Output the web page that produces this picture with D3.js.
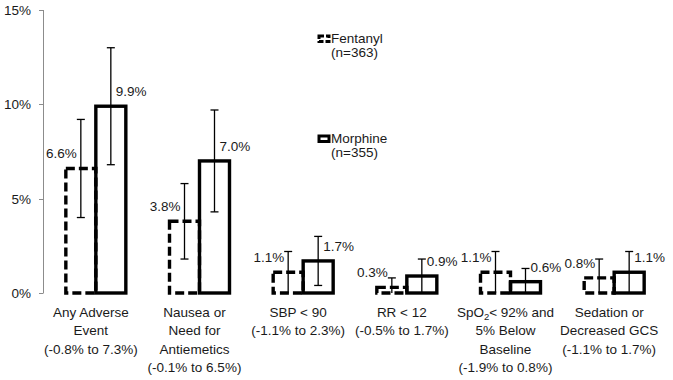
<!DOCTYPE html>
<html>
<head>
<meta charset="utf-8">
<script src="https://cdn.jsdelivr.net/npm/d3@7"></script>
<style>
  html, body { margin: 0; padding: 0; background: #fff; }
  text { font-family: "Liberation Sans", Arial, sans-serif; fill: #1a1a1a; }
</style>
</head>
<body>
<div id="chart"></div>
<script>
// categories (label lines), series values and 95% CI ends, all in %
const categories = ["any", "nausea", "sbp", "rr", "spo2", "sedation"];
const categoryLines = [
  ["Any Adverse", "Event", "(-0.8% to 7.3%)"],
  ["Nausea or", "Need for", "Antiemetics", "(-0.1% to 6.5%)"],
  ["SBP < 90", "(-1.1% to 2.3%)"],
  ["RR < 12", "(-0.5% to 1.7%)"],
  ["SpO2< 92% and", "5% Below", "Baseline", "(-1.9% to 0.8%)"],
  ["Sedation or", "Decreased GCS", "(-1.1% to 1.7%)"]
];
const seriesNames = ["Fentanyl", "Morphine"];
const seriesN = ["(n=363)", "(n=355)"];
const fentanyl = [6.6, 3.8, 1.1, 0.3, 1.1, 0.8];
const fentanylLow = [4.0, 1.8, 0.0, 0.0, 0.0, 0.0];
const fentanylHigh = [9.2, 5.8, 2.2, 0.8, 2.2, 1.8];
const morphine = [9.9, 7.0, 1.7, 0.9, 0.6, 1.1];
const morphineLow = [6.8, 4.3, 0.4, 0.0, 0.0, 0.0];
const morphineHigh = [13.0, 9.7, 3.0, 1.8, 1.3, 2.2];
const yTicks = [0, 5, 10, 15];

const width = 673, height = 380;
const svg = d3.select("#chart").append("svg")
  .attr("width", width).attr("height", height);

const y = d3.scaleLinear().domain([0, 15]).range([293, 10]);
const x = d3.scaleBand().domain(categories).range([44, 666]);
const xs = d3.scaleBand().domain(seriesNames).range([0, x.bandwidth()]).paddingOuter(0.728);

// y axis: line, small ticks on the left
const axis = svg.append("g");
axis.append("line")
  .attr("x1", 43.5).attr("x2", 43.5)
  .attr("y1", y(15)).attr("y2", y(0))
  .attr("stroke", "#8c8c8c").attr("stroke-width", 1);
yTicks.forEach(t => {
  axis.append("line")
    .attr("x1", 39).attr("x2", 43.5)
    .attr("y1", Math.round(y(t)) + 0.5).attr("y2", Math.round(y(t)) + 0.5)
    .attr("stroke", "#8c8c8c");
  axis.append("text")
    .attr("x", 31).attr("y", y(t) + 5)
    .attr("text-anchor", "end")
    .attr("font-size", 13.5)
    .text(t + "%");
});

const series = [
  { name: "Fentanyl", vals: fentanyl, lo: fentanylLow, hi: fentanylHigh, dash: "9,4" },
  { name: "Morphine", vals: morphine, lo: morphineLow, hi: morphineHigh, dash: null }
];

const bars = svg.append("g");
series.forEach((s, si) => {
  categories.forEach((c, i) => {
    const x0 = x(c) + xs(s.name);
    const bw = xs.bandwidth();
    const cx = x0 + bw / 2;
    const r = bars.append("rect")
      .attr("x", x0).attr("y", y(s.vals[i]))
      .attr("width", bw).attr("height", y(0) - y(s.vals[i]))
      .attr("fill", "none")
      .attr("stroke", "#000").attr("stroke-width", 3.4);
    if (s.dash) r.attr("stroke-dasharray", s.dash);

    // error bar
    bars.append("line")
      .attr("x1", cx).attr("x2", cx)
      .attr("y1", y(s.hi[i])).attr("y2", y(s.lo[i]))
      .attr("stroke", "#000").attr("stroke-width", 1.3);
    [s.hi[i], s.lo[i]].forEach(v => {
      if (v <= 0) return;
      bars.append("line")
        .attr("x1", cx - 4).attr("x2", cx + 4)
        .attr("y1", y(v)).attr("y2", y(v))
        .attr("stroke", "#000").attr("stroke-width", 1.3);
    });

    // value label
    bars.append("text")
      .attr("x", si === 0 ? cx - 4 : cx + 5)
      .attr("y", y(s.vals[i]) - 10)
      .attr("text-anchor", si === 0 ? "end" : "start")
      .attr("font-size", 13.5)
      .text(s.vals[i].toFixed(1) + "%");
  });
});

// category labels
const labels = svg.append("g");
categories.forEach((c, i) => {
  const t = labels.append("text")
    .attr("text-anchor", "middle")
    .attr("font-size", 13.5);
  categoryLines[i].forEach((line, li) => {
    const ts = t.append("tspan")
      .attr("x", x(c) + x.bandwidth() / 2 - 5)
      .attr("y", 317 + li * 18.3);
    if (line.startsWith("SpO2")) {
      ts.append("tspan").text("SpO");
      ts.append("tspan").attr("font-size", 9.5).attr("dy", 3).text("2");
      ts.append("tspan").attr("dy", -3).text(line.slice(4));
    } else {
      ts.text(line);
    }
  });
});

// legend
const legendY = [35, 135];
const legend = svg.append("g");
series.forEach((s, si) => {
  const r = legend.append("rect")
    .attr("x", 319).attr("y", legendY[si] + 1)
    .attr("width", 10).attr("height", 5.5)
    .attr("fill", "none").attr("stroke", "#000").attr("stroke-width", 3);
  if (s.dash) r.attr("stroke-dasharray", "5,2");
  legend.append("text")
    .attr("x", 331).attr("y", legendY[si] + 7.5)
    .attr("font-size", 13.5)
    .text(seriesNames[si]);
  legend.append("text")
    .attr("x", 331).attr("y", legendY[si] + 22)
    .attr("font-size", 13.5)
    .text(seriesN[si]);
});
</script>
</body>
</html>
